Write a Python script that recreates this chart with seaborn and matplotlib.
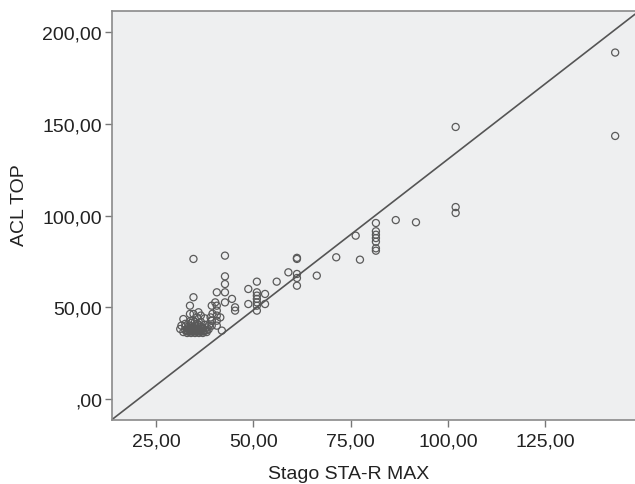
import matplotlib
matplotlib.use("Agg")
import matplotlib.pyplot as plt
import matplotlib.ticker as mticker
import seaborn as sns
import pandas as pd

# ---- data ----
stago_x = [
    143.0, 143.0, 102.0, 102.0, 102.0,
    81.5, 86.6, 91.8, 81.5, 81.5, 81.5, 81.5, 81.5, 81.5,
    76.3, 71.3, 77.4, 61.2, 61.2, 59.0, 61.2, 61.2, 61.2, 66.3, 56.0,
    50.9, 48.7, 50.9, 50.9, 50.9, 50.9, 50.9, 50.9, 53.0, 53.0, 48.7,
    45.3, 45.3, 42.7, 42.7, 42.7, 42.7, 40.6, 44.5, 42.7, 40.2,
    40.6, 40.6, 40.6, 40.6, 40.6, 39.3, 39.3, 41.9, 41.5,
    34.6, 34.6, 33.7, 32.0, 33.7, 34.6, 35.9,
    31.2, 32.0, 32.5, 33.0, 33.0, 33.5, 33.5, 34.0, 34.0, 34.0, 34.0,
    34.5, 34.5, 35.0, 35.0, 35.0, 35.0, 35.5, 35.5, 35.5, 36.0, 36.0,
    36.0, 36.5, 36.5, 37.0, 37.0, 37.5, 38.0, 38.0, 38.5, 39.3, 39.3,
    39.0, 39.5, 36.5, 37.5, 32.5, 31.5, 33.0, 34.0, 35.0, 36.0, 37.0,
    38.0, 32.5, 33.5, 34.5, 35.5, 36.5, 37.5,
    33.2, 34.2, 35.2, 36.2, 37.2, 34.8, 35.8, 36.8, 33.8, 38.6,
]
acl_y = [
    189.0, 143.5, 148.4, 104.7, 101.5,
    96.0, 97.6, 96.4, 91.5, 89.6, 87.8, 85.8, 82.2, 80.9,
    89.1, 77.3, 76.0, 76.4, 77.0, 69.1, 68.2, 66.0, 61.8, 67.3, 64.0,
    64.0, 60.0, 58.2, 56.4, 54.6, 52.7, 50.9, 48.2, 57.3, 51.8, 51.8,
    50.0, 48.2, 78.2, 66.9, 62.7, 58.2, 58.2, 54.6, 52.7, 52.7,
    50.9, 48.2, 45.5, 42.7, 40.0, 50.9, 42.7, 37.3, 44.5,
    76.4, 55.5, 50.9, 43.6, 46.4, 46.4, 47.3,
    38.2, 36.5, 37.5, 36.0, 38.5, 40.0, 37.0, 36.0, 38.0, 39.5, 41.5,
    37.0, 43.0, 36.0, 38.0, 40.0, 42.0, 37.0, 39.0, 44.5, 36.0, 38.0,
    40.5, 37.0, 42.0, 36.0, 38.5, 37.5, 36.5, 39.0, 38.0, 40.0, 42.7,
    44.5, 46.5, 45.5, 44.0, 41.0, 40.0, 37.0, 37.0, 37.0, 37.0, 37.0,
    37.5, 39.5, 38.5, 39.0, 41.0, 39.5, 40.5,
    36.8, 36.8, 36.8, 36.8, 36.8, 38.2, 38.2, 38.2, 42.5, 40.2,
]
fit_intercept = -33.7
fit_slope = 1.645
x_ticks = [25, 50, 75, 100, 125]
y_ticks = [0, 50, 100, 150, 200]
x_label = "Stago STA-R MAX"
y_label = "ACL TOP"

df = pd.DataFrame({"x": stago_x, "y": acl_y})

sns.set_theme(style="white")
plt.rcParams["font.family"] = ["Liberation Sans", "DejaVu Sans"]

fig = plt.figure(figsize=(6.35, 4.85), dpi=100)
ax = fig.add_axes([0.176, 0.1326, 0.824, 0.8424])
ax.set_facecolor("#eeeff0")

sns.scatterplot(data=df, x="x", y="y", ax=ax, marker="o", s=26,
                facecolor="none", edgecolor="#5a5a5a", linewidth=0.9,
                legend=False)

ax.axline((0, fit_intercept), slope=fit_slope, color="#555555", lw=1.2)

ax.set_xlim(13.6, 148.1)
ax.set_ylim(-11.3, 211.6)
ax.set_xticks(x_ticks)
ax.set_yticks(y_ticks)

def fmt(v, pos):
    s = f"{v:.2f}".replace(".", ",")
    if s.startswith("0,"):
        s = s[1:]
    return s

ax.xaxis.set_major_formatter(mticker.FuncFormatter(fmt))
ax.yaxis.set_major_formatter(mticker.FuncFormatter(fmt))
ax.tick_params(axis="both", direction="out", length=5, width=1,
               color="#777777", labelsize=14, labelcolor="#222222",
               bottom=True, left=True)
ax.tick_params(axis="x", pad=4)
ax.tick_params(axis="y", pad=2)

for side in ["left", "bottom", "top"]:
    ax.spines[side].set_color("#8a8a8a")
    ax.spines[side].set_linewidth(1.2)
ax.spines["right"].set_visible(False)

ax.set_xlabel(x_label, fontsize=14, color="#222222")
ax.set_ylabel(y_label, fontsize=14, color="#222222")
ax.xaxis.set_label_coords(0.453, -0.111)
ax.yaxis.set_label_coords(-0.16, 0.528)

fig.savefig("out.png", dpi=100, facecolor="white")
